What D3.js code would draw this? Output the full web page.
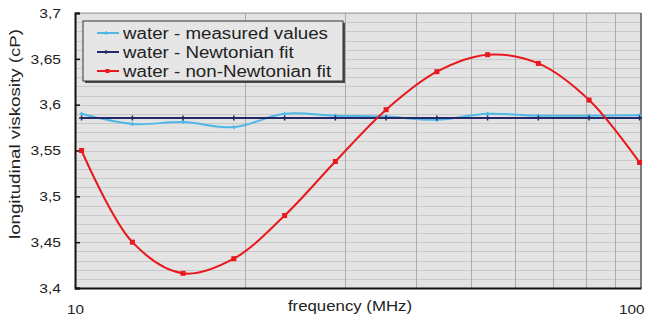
<!DOCTYPE html>
<html>
<head>
<meta charset="utf-8">
<script src="https://cdn.jsdelivr.net/npm/d3@7"></script>
<style>
  body { margin: 0; background: #fff; }
  text { font-family: "Liberation Sans", Arial, sans-serif; fill: #222; }
</style>
</head>
<body>
<svg id="chart" width="653" height="320"></svg>
<script>
// frequencies (MHz), log-spaced measurement points
const freq = [10.27, 12.63, 15.52, 19.08, 23.46, 28.84, 35.45, 43.58, 53.57, 65.86, 80.96, 99.4];
const measured = [3.590, 3.579, 3.581, 3.5755, 3.590, 3.588, 3.587, 3.5835, 3.590, 3.588, 3.588, 3.5885];
const newtonian = [3.5855, 3.5855, 3.5855, 3.5855, 3.5855, 3.5855, 3.5855, 3.5855, 3.5855, 3.5855, 3.5855, 3.5855];
const nonNewtonian = [3.550, 3.450, 3.416, 3.432, 3.479, 3.538, 3.5945, 3.636, 3.6545, 3.645, 3.605, 3.537];
const yTicks = [3.4, 3.45, 3.5, 3.55, 3.6, 3.65, 3.7];
const seriesNames = ["water - measured values", "water - Newtonian fit", "water - non-Newtonian fit"];

const svg = d3.select("#chart");
const pLeft = 75, pRight = 641, pTop = 13, pBottom = 288;

// the original text is a bit wider than it is tall
function stretch(sel, k) {
  sel.each(function() {
    const w = this.getComputedTextLength();
    d3.select(this).attr("textLength", w * k).attr("lengthAdjust", "spacingAndGlyphs");
  });
}

const x = d3.scaleLog().domain([10, 100]).range([pLeft, pRight]);
const y = d3.scaleLinear().domain([3.4, 3.7]).range([pBottom, pTop]);

// plot background
svg.append("rect")
    .attr("x", pLeft).attr("y", pTop)
    .attr("width", pRight - pLeft).attr("height", pBottom - pTop)
    .attr("fill", "#e3e3e3");

// minor horizontal grid every 0.01
const minorY = d3.range(0, 31).map(i => 3.4 + i * 0.01);
svg.append("g").selectAll("line")
    .data(minorY)
    .join("line")
    .attr("x1", pLeft).attr("x2", pRight)
    .attr("y1", d => Math.round(y(d)) + 0.5).attr("y2", d => Math.round(y(d)) + 0.5)
    .attr("stroke", "#c9c9c9")
    .attr("stroke-width", 1);

// vertical grid at 20..90
const vGrid = [20, 30, 40, 50, 60, 70, 80, 90];
svg.append("g").selectAll("line")
    .data(vGrid)
    .join("line")
    .attr("x1", d => Math.round(x(d)) + 0.5).attr("x2", d => Math.round(x(d)) + 0.5)
    .attr("y1", pTop).attr("y2", pBottom)
    .attr("stroke", "#ababab");

// frame: top/right gray, left/bottom black
svg.append("line").attr("x1", pLeft).attr("x2", pRight).attr("y1", pTop).attr("y2", pTop)
    .attr("stroke", "#9a9a9a");
svg.append("line").attr("x1", pRight).attr("x2", pRight).attr("y1", pTop).attr("y2", pBottom)
    .attr("stroke", "#555").attr("stroke-width", 1.5);

// y axis
const yAxis = d3.axisLeft(y)
    .tickValues(yTicks)
    .tickSize(-5)
    .tickPadding(14)
    .tickFormat(d => String(+d.toFixed(2)).replace(".", ","));
const gy = svg.append("g").attr("transform", `translate(${pLeft},0)`).call(yAxis);
gy.select(".domain").attr("stroke", "#111").attr("stroke-width", 2);
gy.selectAll(".tick line").attr("stroke", "#111").attr("stroke-width", 1.5);
gy.selectAll(".tick text").style("font-size", "13px").attr("fill", "#222")
    .style("font-family", "'Liberation Sans', Arial, sans-serif");
stretch(gy.selectAll(".tick text"), 1.2);

// x axis (only the ends are labeled)
const xAxis = d3.axisBottom(x)
    .tickValues([10, 100])
    .tickSize(0)
    .tickPadding(17)
    .tickFormat(d3.format("d"));
const gx = svg.append("g").attr("transform", `translate(0,${pBottom})`).call(xAxis);
gx.select(".domain").attr("stroke", "#111").attr("stroke-width", 2);
gx.selectAll(".tick text").style("font-size", "13px").attr("fill", "#222")
    .style("font-family", "'Liberation Sans', Arial, sans-serif");
gx.selectAll(".tick text").filter(d => d === 100).attr("text-anchor", "end").attr("x", 3);
stretch(gx.selectAll(".tick text"), 1.18);

// axis titles
const xTitle = svg.append("text")
    .attr("x", 350).attr("y", 311)
    .attr("text-anchor", "middle")
    .style("font-size", "14px")
    .text("frequency (MHz)");
stretch(xTitle, 1.2);
svg.append("text")
    .attr("transform", "translate(20,134) rotate(-90)")
    .attr("text-anchor", "middle")
    .style("font-size", "15px")
    .attr("textLength", 210).attr("lengthAdjust", "spacingAndGlyphs")
    .text("longitudinal viskosity (cP)");

// series
const curve = d3.curveCatmullRom.alpha(0.5);
const series = [
  { values: measured, color: "#4fb9e6", width: 2, marker: "dash" },
  { values: newtonian, color: "#252766", width: 2, marker: "plus" },
  { values: nonNewtonian, color: "#e8181c", width: 2, marker: "square" }
];

const plot = svg.append("g");
series.forEach(s => {
  const pts = freq.map((f, i) => [f, s.values[i]]);
  const line = d3.line().x(d => x(d[0])).y(d => y(d[1])).curve(curve);
  plot.append("path")
      .datum(pts)
      .attr("d", line)
      .attr("fill", "none")
      .attr("stroke", s.color)
      .attr("stroke-width", s.width);
  const m = plot.append("g");
  if (s.marker === "square") {
    m.selectAll("rect").data(pts).join("rect")
        .attr("x", d => x(d[0]) - 2.5).attr("y", d => y(d[1]) - 2.5)
        .attr("width", 5).attr("height", 5)
        .attr("fill", s.color);
  } else {
    const sz = s.marker === "plus" ? 2.5 : 2;
    m.selectAll("path").data(pts).join("path")
        .attr("d", d => {
          const cx = x(d[0]), cy = y(d[1]);
          return `M${cx - sz},${cy}H${cx + sz}M${cx},${cy - sz}V${cy + sz}`;
        })
        .attr("stroke", s.color)
        .attr("stroke-width", 1.5);
  }
});

// legend
const lg = svg.append("g");
lg.append("rect").attr("x", 85).attr("y", 23).attr("width", 260).attr("height", 60)
    .attr("fill", "#4a4a4a");
lg.append("rect").attr("x", 83).attr("y", 21).attr("width", 260).attr("height", 60)
    .attr("fill", "#e6e6e6").attr("stroke", "#333").attr("stroke-width", 1);
series.forEach((s, i) => {
  const ly = 33 + i * 19;
  lg.append("line").attr("x1", 97).attr("x2", 119).attr("y1", ly).attr("y2", ly)
      .attr("stroke", s.color).attr("stroke-width", 2);
  if (s.marker === "square") {
    lg.append("rect").attr("x", 105.5).attr("y", ly - 2).attr("width", 4).attr("height", 4)
        .attr("fill", s.color);
  } else {
    lg.append("path").attr("d", `M106,${ly - 2}V${ly + 2}M104,${ly}H110`)
        .attr("stroke", s.color).attr("stroke-width", 1.2);
  }
  const t = lg.append("text").attr("x", 123).attr("y", ly + 5.5)
      .style("font-size", "16px")
      .text(seriesNames[i]);
  stretch(t, 1.17);
});
</script>
</body>
</html>
